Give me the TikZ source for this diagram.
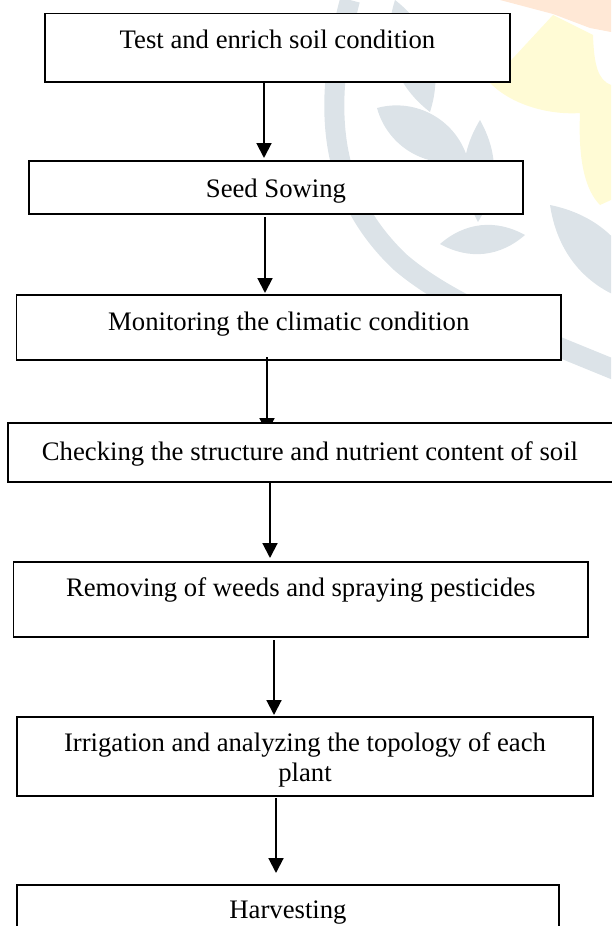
\documentclass[tikz,border=0pt]{standalone}
\usepackage{fontspec}
\setmainfont{Liberation Serif}
\usetikzlibrary{arrows.meta,calc}
\definecolor{wmgray}{HTML}{DCE3E8}
\definecolor{wmyellow}{HTML}{FFFBD5}
\definecolor{wmpeach}{HTML}{FFE8D6}
\newcommand\pxu{0.4494pt}
\pgfdeclarelayer{front}
\pgfsetlayers{main,front}
\begin{document}
\begin{tikzpicture}[x=0.4494pt,y=-0.4494pt,
  stepbox/.style={draw=black,fill=white,line width=0.75pt,inner sep=0pt,outer sep=0pt},
  steptext/.style={font=\fontsize{12}{13.5}\selectfont,inner sep=0pt,anchor=base},
  arr/.style={draw=black,line width=0.9pt,-{Triangle[width=6.7pt,length=6.7pt]}},
  leaf/.style={fill=wmgray}]
\useasboundingbox (0,0) rectangle (611,926);
\clip (0,0) rectangle (611,926);
% faint watermark
\fill[wmpeach] (500,0) -- (611,0) -- (611,32) -- (590,28) -- (553,14) -- cycle;
\fill[wmyellow] (553,15) -- (490,83) .. controls (515,108) and (555,115) .. (580,113)
  .. controls (578,160) and (585,190) .. (600,205) -- (611,200) -- (611,85)
  .. controls (598,80) and (594,65) .. (593,35) -- cycle;
\draw[wmgray,line width=9pt] (350,0) .. controls (318,120) and (335,200) .. (400,262)
  .. controls (450,305) and (530,335) .. (620,372);
\fill[leaf] (395,0) to[bend left=35] (430,112) to[bend left=35] (395,0) -- cycle;
\fill[leaf] (377,108) to[bend left=45] (468,160) to[bend left=45] (377,108) -- cycle;
\fill[leaf] (480,120) to[bend left=30] (478,222) to[bend left=30] (480,120) -- cycle;
\fill[leaf] (440,244) to[bend left=35] (525,235) to[bend left=35] (440,244) -- cycle;
\fill[leaf] (550,205) to[bend left=35] (645,305) to[bend left=35] (550,205) -- cycle;
% boxes
\node[stepbox,minimum width=465*\pxu,minimum height=68.5*\pxu] (b1) at (277.5,47.75) {};
\node[stepbox,minimum width=494*\pxu,minimum height=53*\pxu] (b2) at (276,187.5) {};
\node[stepbox,minimum width=544.5*\pxu,minimum height=65*\pxu] (b3) at (288.75,327.5) {};
\node[stepbox,minimum width=574.5*\pxu,minimum height=75*\pxu] (b5) at (300.75,599.5) {};
\node[stepbox,minimum width=576*\pxu,minimum height=79*\pxu] (b6) at (305,756.5) {};
\node[stepbox,minimum width=542*\pxu,minimum height=75*\pxu] (b7) at (288,922.5) {};
\begin{pgfonlayer}{front}
\node[stepbox,minimum width=605*\pxu,minimum height=59*\pxu] (b4) at (310.5,452.5) {};
\node[steptext] (t4) at (310,460.5) {Checking the structure and nutrient content of soil};
\end{pgfonlayer}
% texts
\node[steptext] (t1) at (277.5,48.5) {Test and enrich soil condition};
\node[steptext] (t2) at (276,197) {Seed Sowing};
\node[steptext] (t3) at (288.75,330) {Monitoring the climatic condition};
\node[steptext] (t5) at (300.75,596.5) {Removing of weeds and spraying pesticides};
\node[steptext,align=center] (t6) at (305,781.5) {Irrigation and analyzing the topology of each\\plant};
\node[steptext] (t7) at (288,918) {Harvesting};
% arrows
\draw[arr] ($(b1.south)+(-13.5,0)$) -- ($(b2.north)+(-12,-3)$);
\draw[arr] ($(b2.south)+(-11,3)$) -- ($(b3.north)+(-23.75,-2)$);
\draw[arr] ($(b3.south)+(-21.75,-3)$) -- ($(b4.north)+(-43.5,10)$);
\draw[arr] ($(b4.south)+(-40.5,0)$) -- ($(b5.north)+(-30.75,-4)$);
\draw[arr] ($(b5.south)+(-26.75,3)$) -- ($(b6.north)+(-31,-2)$);
\draw[arr] ($(b6.south)+(-29,2)$) -- ($(b7.north)+(-12,-12)$);
\end{tikzpicture}
\end{document}
